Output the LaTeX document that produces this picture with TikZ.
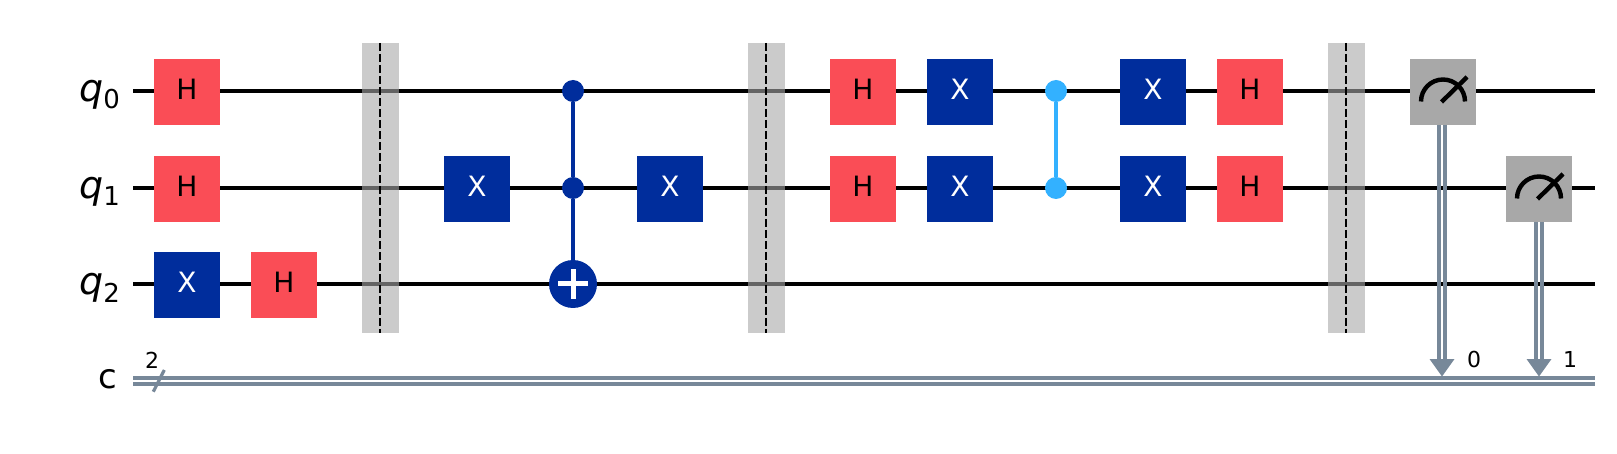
\documentclass[tikz,border=0pt]{standalone}
\usepackage{fontspec}
\setmainfont{DejaVu Sans}
\usetikzlibrary{arrows.meta}
\definecolor{hred}{HTML}{FA4D56}
\definecolor{xblue}{HTML}{002D9C}
\definecolor{czblue}{HTML}{33B1FF}
\definecolor{mgray}{HTML}{A8A8A8}
\definecolor{cwire}{HTML}{778899}
\definecolor{barr}{HTML}{A8A8A8}
\tikzset{x=1pt,y=-1pt,
  wire/.style={line width=4.2pt,black},
  gatebox/.style={minimum width=66pt,minimum height=66pt,inner sep=0pt,outer sep=0pt,font=\fontsize{28}{28}\selectfont,anchor=center,text height=15.4pt,text depth=0pt},
  hgate/.style={gatebox,fill=hred,text=black},
  xgate/.style={gatebox,fill=xblue,text=white},
  mgate/.style={gatebox,fill=mgray},
  ctrl/.style={circle,minimum size=22pt,inner sep=0pt,outer sep=0pt},
  barrierbox/.style={fill=barr,fill opacity=.6,minimum width=37pt,minimum height=290pt,inner sep=0pt,outer sep=0pt},
  lab/.style={font=\fontsize{38}{38}\selectfont,anchor=base east,inner sep=0pt},
  small/.style={font=\fontsize{22}{22}\selectfont,anchor=base,inner sep=0pt},
  cline/.style={line width=4.2pt,cwire},
}
\newcommand{\meter}[1]{%
  \draw[line width=4.4pt,black] ([shift={(-22,9.5)}]#1.center) arc[start angle=180,end angle=0,x radius=22,y radius=-22];
  \draw[line width=4.4pt,black] ([shift={(-1.5,10)}]#1.center) -- ([shift={(24,-15)}]#1.center);
}
\begin{document}
\begin{tikzpicture}
\useasboundingbox (0,0) rectangle (1617,454);
% wire end points
\coordinate (s0) at (133,91); \coordinate (e0) at (1595,91);
\coordinate (s1) at (133,188); \coordinate (e1) at (1595,188);
\coordinate (s2) at (133,284); \coordinate (e2) at (1595,284);
\coordinate (sc) at (133,381); \coordinate (ec) at (1595,381);
% labels
\node[lab] (l0) at (120,102) {\textit{q}\raisebox{-7pt}{\fontsize{26}{26}\selectfont 0}};
\node[lab] (l1) at (120,199) {\textit{q}\raisebox{-7pt}{\fontsize{26}{26}\selectfont 1}};
\node[lab] (l2) at (120,295) {\textit{q}\raisebox{-7pt}{\fontsize{26}{26}\selectfont 2}};
\node[lab,font=\fontsize{34}{34}\selectfont] (lc) at (117.5,388) {c};
% wires
\draw[wire] (s0) -- (e0);
\draw[wire] (s1) -- (e1);
\draw[wire] (s2) -- (e2);
\draw[cline] ([yshift=-3pt]sc) -- ([yshift=-3pt]ec);
\draw[cline] ([yshift=3pt]sc) -- ([yshift=3pt]ec);
% register slash
\coordinate (sl1) at (153.3,391.7); \coordinate (sl2) at (164.3,370);
\draw[line width=3.2pt,cwire] (sl1) -- (sl2);
\node[small] (two) at (152,368) {2};
% barriers
\foreach \n/\x in {b1/380,b2/766,b3/1346}{
  \node[barrierbox] (\n) at (\x,188) {};
  \draw[line width=2.2pt,black,dash pattern=on 8pt off 3pt] (\n.north) -- (\n.south);
}
% gates column 1-2
\node[hgate] (h0) at (187,92) {H};
\node[hgate] (h1) at (187,189) {H};
\node[xgate] (x2) at (187,285) {X};
\node[hgate] (h2) at (284,285) {H};
% first X and CCX
\node[xgate] (x1a) at (477,189) {X};
\node[xgate] (x1b) at (670,189) {X};
\node[ctrl,fill=xblue] (c0) at (573,91) {};
\node[ctrl,fill=xblue] (c1) at (573,188) {};
\node[circle,fill=xblue,minimum size=48pt,inner sep=0pt,outer sep=0pt] (tg) at (573,284) {};
\draw[line width=4.6pt,xblue] (c0) -- (c1);
\draw[line width=4.6pt,xblue] (c1) -- (tg);
\draw[line width=5pt,white] ([xshift=-15pt]tg.center) -- ([xshift=15pt]tg.center);
\draw[line width=5pt,white] ([yshift=-15pt]tg.center) -- ([yshift=15pt]tg.center);
% Grover block
\node[hgate] (h3) at (863,92) {H};
\node[hgate] (h4) at (863,189) {H};
\node[xgate] (x3) at (960,92) {X};
\node[xgate] (x4) at (960,189) {X};
\node[ctrl,fill=czblue] (z0) at (1056,91) {};
\node[ctrl,fill=czblue] (z1) at (1056,188) {};
\draw[line width=4.6pt,czblue] (z0) -- (z1);
\node[xgate] (x5) at (1153,92) {X};
\node[xgate] (x6) at (1153,189) {X};
\node[hgate] (h5) at (1250,92) {H};
\node[hgate] (h6) at (1250,189) {H};
% measurements
\coordinate (t0) at (1442,381);
\coordinate (t1) at (1539,381);
\node[mgate] (m0) at (1443,92) {};
\node[mgate] (m1) at (1539,189) {};
\meter{m0}
\meter{m1}
\foreach \n/\t/\lbl/\dx in {m0/t0/0/32,m1/t1/1/31}{
  \draw[line width=4pt,cwire] ([xshift=-3pt]\t |- \n.south) -- ([xshift=-3pt]\t |- 0,362);
  \draw[line width=4pt,cwire] ([xshift=3pt]\t |- \n.south) -- ([xshift=3pt]\t |- 0,362);
  \path[fill=cwire] (\t |- 0,376.5) -- ([xshift=-12.5pt]\t |- 0,359) -- ([xshift=12.5pt]\t |- 0,359) -- cycle;
  \node[small] (n\n) at ([xshift=\dx pt]\t |- 0,367.7) {\lbl};
}
\end{tikzpicture}
\end{document}
